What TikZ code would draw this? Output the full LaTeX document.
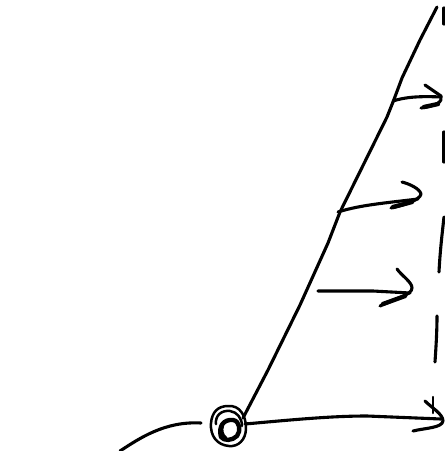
\documentclass[tikz,border=0pt]{standalone}
\begin{document}
\begin{tikzpicture}[
        x=1pt,
        y=-1pt,
        pen/.style={line width=3.1pt, line cap=round, line join=round},
        thinpen/.style={line width=2.5pt, line cap=round, line join=round},
        fatpen/.style={line width=4.4pt, line cap=round, line join=round}
    ]
    \useasboundingbox (0,0) rectangle (445,451);

    \coordinate (Top) at (437,7);
    \coordinate (Pivot) at (243,418);
    \coordinate (Left) at (120,451);
    \coordinate (Gap) at (201,423);
    \coordinate (Start) at (245,424);
    \coordinate (End) at (441,419);

    % slanted line
    \draw[pen] (Top) -- (420,40) -- (402,78) -- (393,102) -- (387,117)
        -- (340,212) -- (328,243) -- (300,305) -- (268,370) -- (Pivot);

    % incoming curve
    \draw[pen] (Left) .. controls (140,438) and (165,421) .. (Gap);

    % coil
    \draw[thinpen] (228,406) .. controls (240,405) and (246,416) .. (246,428)
        .. controls (246,440) and (238,447) .. (229,446)
        .. controls (217,445) and (210,436) .. (211,423)
        .. controls (212,412) and (218,406) .. (228,406);
    \draw[thinpen] (216,424) .. controls (215,415) and (222,410) .. (230,411)
        .. controls (237,412) and (242,418) .. (242,426);
    \draw[fatpen] (221,437) .. controls (218,426) and (224,419) .. (233,420)
        .. controls (240,421) and (241,431) .. (237,436)
        .. controls (232,441) and (224,441) .. (221,437);
    \draw[fatpen] (222,425) .. controls (220,431) and (222,436) .. (225,438);

    % outgoing arrows
    \draw[pen] (393,101) .. controls (405,97) and (420,96) .. (441,97);
    \draw[pen] (425,85) -- (441,96) .. controls (443,102) and (436,106) .. (421,108);
    \draw[fatpen] (438,104) -- (424,107);
    \draw[pen] (338,212) .. controls (360,205) and (385,203) .. (418,199);
    \draw[pen] (402,182) .. controls (410,184) and (420,189) .. (421,194)
        .. controls (420,200) and (405,205) .. (391,208);
    \draw[fatpen] (412,202) -- (393,207);
    \draw[pen] (318,291) -- (373,291) -- (410,293);
    \draw[pen] (397,269) .. controls (402,276) and (412,282) .. (412,288)
        .. controls (412,295) and (395,299) .. (380,306);
    \draw[fatpen] (405,296) -- (383,304);
    \draw[pen] (Start) .. controls (290,420) and (330,416) .. (367,416) -- (End);
    \draw[pen] (425,401) .. controls (432,408) and (443,414) .. (443,421)
        .. controls (442,428) and (425,428) .. (413,431);
    \draw[thinpen] (433,397) -- (433,413);

    % dashed line on the right
    \draw[pen] (444,8) -- (444,24);
    \draw[pen] (444,132) -- (444,162);
    \draw[pen] (444,217) .. controls (442,235) and (440,252) .. (439,272);
    \draw[pen] (437,316) .. controls (437,332) and (436,347) .. (435,362);
\end{tikzpicture}
\end{document}
